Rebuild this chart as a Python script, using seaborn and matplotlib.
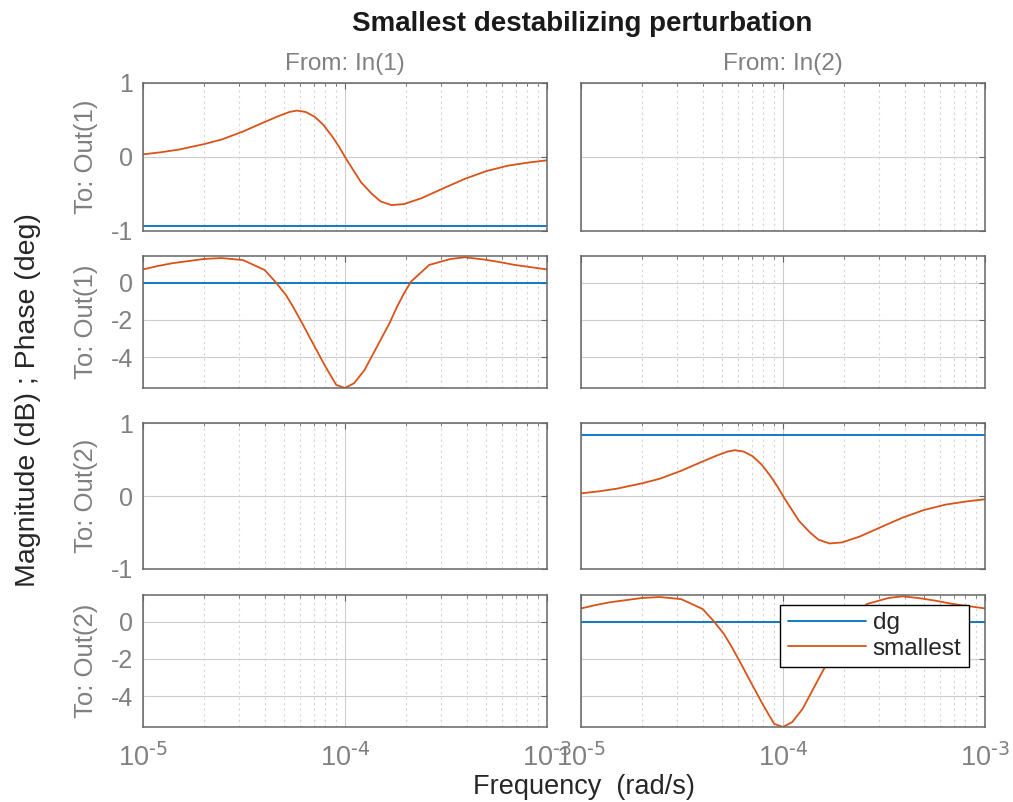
import numpy as np
import seaborn as sns
import matplotlib.pyplot as plt
from matplotlib.ticker import LogLocator, NullFormatter, FixedLocator

# Datos (frecuencia en rad/s)
mag_freq = [1.0e-5, 1.226e-5, 1.503e-5, 2.0e-5, 2.45e-5, 3.13e-5, 4.0e-5, 4.71e-5,
            5.32e-5, 5.77e-5, 6.38e-5, 7.07e-5, 7.83e-5, 8.67e-5, 9.4e-5, 1.0e-4,
            1.08e-4, 1.20e-4, 1.36e-4, 1.50e-4, 1.70e-4, 1.96e-4, 2.40e-4, 3.07e-4,
            3.92e-4, 5.0e-4, 6.38e-4, 8.17e-4, 1.0e-3]
mag_smallest = [0.036, 0.064, 0.10, 0.173, 0.236, 0.345, 0.473, 0.555,
                0.609, 0.627, 0.609, 0.545, 0.432, 0.273, 0.127, 0.0,
                -0.145, -0.341, -0.50, -0.60, -0.65, -0.636, -0.555, -0.423,
                -0.295, -0.191, -0.118, -0.073, -0.045]

phase_freq = [1.0e-5, 1.18e-5, 1.39e-5, 1.63e-5, 2.0e-5, 2.45e-5, 3.13e-5, 4.0e-5,
              4.52e-5, 5.1e-5, 5.53e-5, 6.14e-5, 6.79e-5, 8.0e-5, 9.04e-5, 1.0e-4,
              1.11e-4, 1.25e-4, 1.5e-4, 1.66e-4, 1.81e-4, 1.96e-4, 2.12e-4, 2.61e-4,
              3.33e-4, 3.92e-4, 4.8e-4, 5.65e-4, 6.93e-4, 1.0e-3]
phase_smallest = [0.71, 0.89, 1.04, 1.14, 1.27, 1.32, 1.21, 0.68,
                  0.05, -0.66, -1.29, -2.18, -3.07, -4.5, -5.48, -5.65,
                  -5.39, -4.68, -3.07, -2.18, -1.29, -0.57, 0.05, 0.95,
                  1.27, 1.36, 1.25, 1.13, 0.95, 0.71]

dg_mag_out1 = -0.93
dg_mag_out2 = 0.84
dg_phase = 0.0

freq_ticks = [1e-5, 1e-4, 1e-3]
freq_labels = [r'$10^{\text{-5}}$', r'$10^{\text{-4}}$', r'$10^{\text{-3}}$']
mag_ticks = [-1, 0, 1]
phase_ticks = [-4, -2, 0]
in_labels = ['From: In(1)', 'From: In(2)']
out_labels = ['To: Out(1)', 'To: Out(1)', 'To: Out(2)', 'To: Out(2)']

BLUE = '#0072BD'
ORANGE = '#D95319'
GRAY = '#808080'
SPINE = '#666666'

sns.set_style('white')
plt.rcParams['font.family'] = ['Liberation Sans', 'DejaVu Sans']
plt.rcParams['mathtext.default'] = 'regular'
plt.rcParams['axes.unicode_minus'] = False

fig = plt.figure(figsize=(10.13, 8.02), dpi=100)
W, H = 1013, 802

# posiciones de los ejes en pixeles (x0, x1) y (ytop, ybottom)
cols = [(143, 547), (581, 985)]
rows = [(83, 231), (256, 388), (423, 569), (595, 727)]

axes = {}
for r, (yt, yb) in enumerate(rows):
    for c, (x0, x1) in enumerate(cols):
        ax = fig.add_axes([x0 / W, 1 - yb / H, (x1 - x0) / W, (yb - yt) / H])
        axes[(r, c)] = ax
        ax.set_xscale('log')
        ax.set_xlim(1e-5, 1e-3)
        if r % 2 == 0:
            ax.set_ylim(-1, 1)
            ax.yaxis.set_major_locator(FixedLocator(mag_ticks))
        else:
            ax.set_ylim(-5.65, 1.43)
            ax.yaxis.set_major_locator(FixedLocator(phase_ticks))
        ax.xaxis.set_major_locator(FixedLocator(freq_ticks))
        ax.xaxis.set_minor_locator(LogLocator(base=10, subs=np.arange(2, 10)))
        ax.xaxis.set_minor_formatter(NullFormatter())
        if r == 3:
            ax.set_xticklabels(freq_labels)
        else:
            ax.set_xticklabels([])
        if c == 1:
            ax.set_yticklabels([])
        ax.grid(True, which='major', color='#cccccc', lw=0.8)
        ax.grid(True, which='minor', axis='x', color='#d4d4d4', ls=(0, (2, 3)), lw=0.8)
        ax.tick_params(which='both', direction='in', top=True, right=True,
                       colors=SPINE, labelcolor=GRAY)
        ax.tick_params(axis='y', pad=7, labelsize=18)
        ax.tick_params(axis='x', pad=12, labelsize=19.5)
        ax.tick_params(which='major', length=4, width=0.8)
        ax.tick_params(which='minor', length=2.5, width=0.6)
        for s in ax.spines.values():
            s.set_color(SPINE)
            s.set_linewidth(1.1)
        ax.set_axisbelow(True)

# Diagonal: In(1)->Out(1) y In(2)->Out(2)
for c, dg_mag in [(0, dg_mag_out1), (1, dg_mag_out2)]:
    r = 2 * c
    last = c == 1
    sns.lineplot(x=mag_freq, y=[dg_mag] * len(mag_freq), ax=axes[(r, c)],
                 color=BLUE, lw=1.3, legend=False)
    sns.lineplot(x=mag_freq, y=mag_smallest, ax=axes[(r, c)],
                 color=ORANGE, lw=1.3, legend=False)
    ax_ph = axes[(r + 1, c)]
    sns.lineplot(x=phase_freq, y=[dg_phase] * len(phase_freq), ax=ax_ph,
                 color=BLUE, lw=1.3, label='dg' if last else None, legend=False)
    sns.lineplot(x=phase_freq, y=phase_smallest, ax=ax_ph,
                 color=ORANGE, lw=1.3, label='smallest' if last else None, legend=False)

for ax in axes.values():
    ax.set_xlabel('')
    ax.set_ylabel('')

leg = axes[(3, 1)].legend(loc='upper right', bbox_to_anchor=(0.96, 0.924),
                          fontsize=17.5, frameon=True, fancybox=False, framealpha=1,
                          edgecolor='black', handlelength=3.2, borderpad=0.3,
                          labelspacing=0.15, handletextpad=0.3, borderaxespad=0)
leg.get_frame().set_linewidth(1.0)
for t in leg.get_texts():
    t.set_color('#262626')

# textos
fig.text(582 / W, 1 - 31 / H, 'Smallest destabilizing perturbation',
         ha='center', va='baseline', fontsize=20, fontweight='bold', color='#1a1a1a')
for c, (x0, x1) in enumerate(cols):
    fig.text((x0 + x1) / 2 / W, 1 - 70 / H, in_labels[c], ha='center', va='baseline',
             fontsize=17.5, color=GRAY)
for r, (yt, yb) in enumerate(rows):
    fig.text(86 / W, 1 - (yt + yb) / 2 / H, out_labels[r], ha='center', va='center',
             rotation=90, fontsize=18.5, color=GRAY)
fig.text(28 / W, 1 - 400 / H, 'Magnitude (dB) ; Phase (deg)', ha='center', va='center',
         rotation=90, fontsize=20.5, color='#262626')
fig.text(584 / W, 1 - 794 / H, 'Frequency  (rad/s)', ha='center', va='baseline',
         fontsize=19.5, color='#262626')

fig.savefig('out.png', dpi=100)
plt.close(fig)
